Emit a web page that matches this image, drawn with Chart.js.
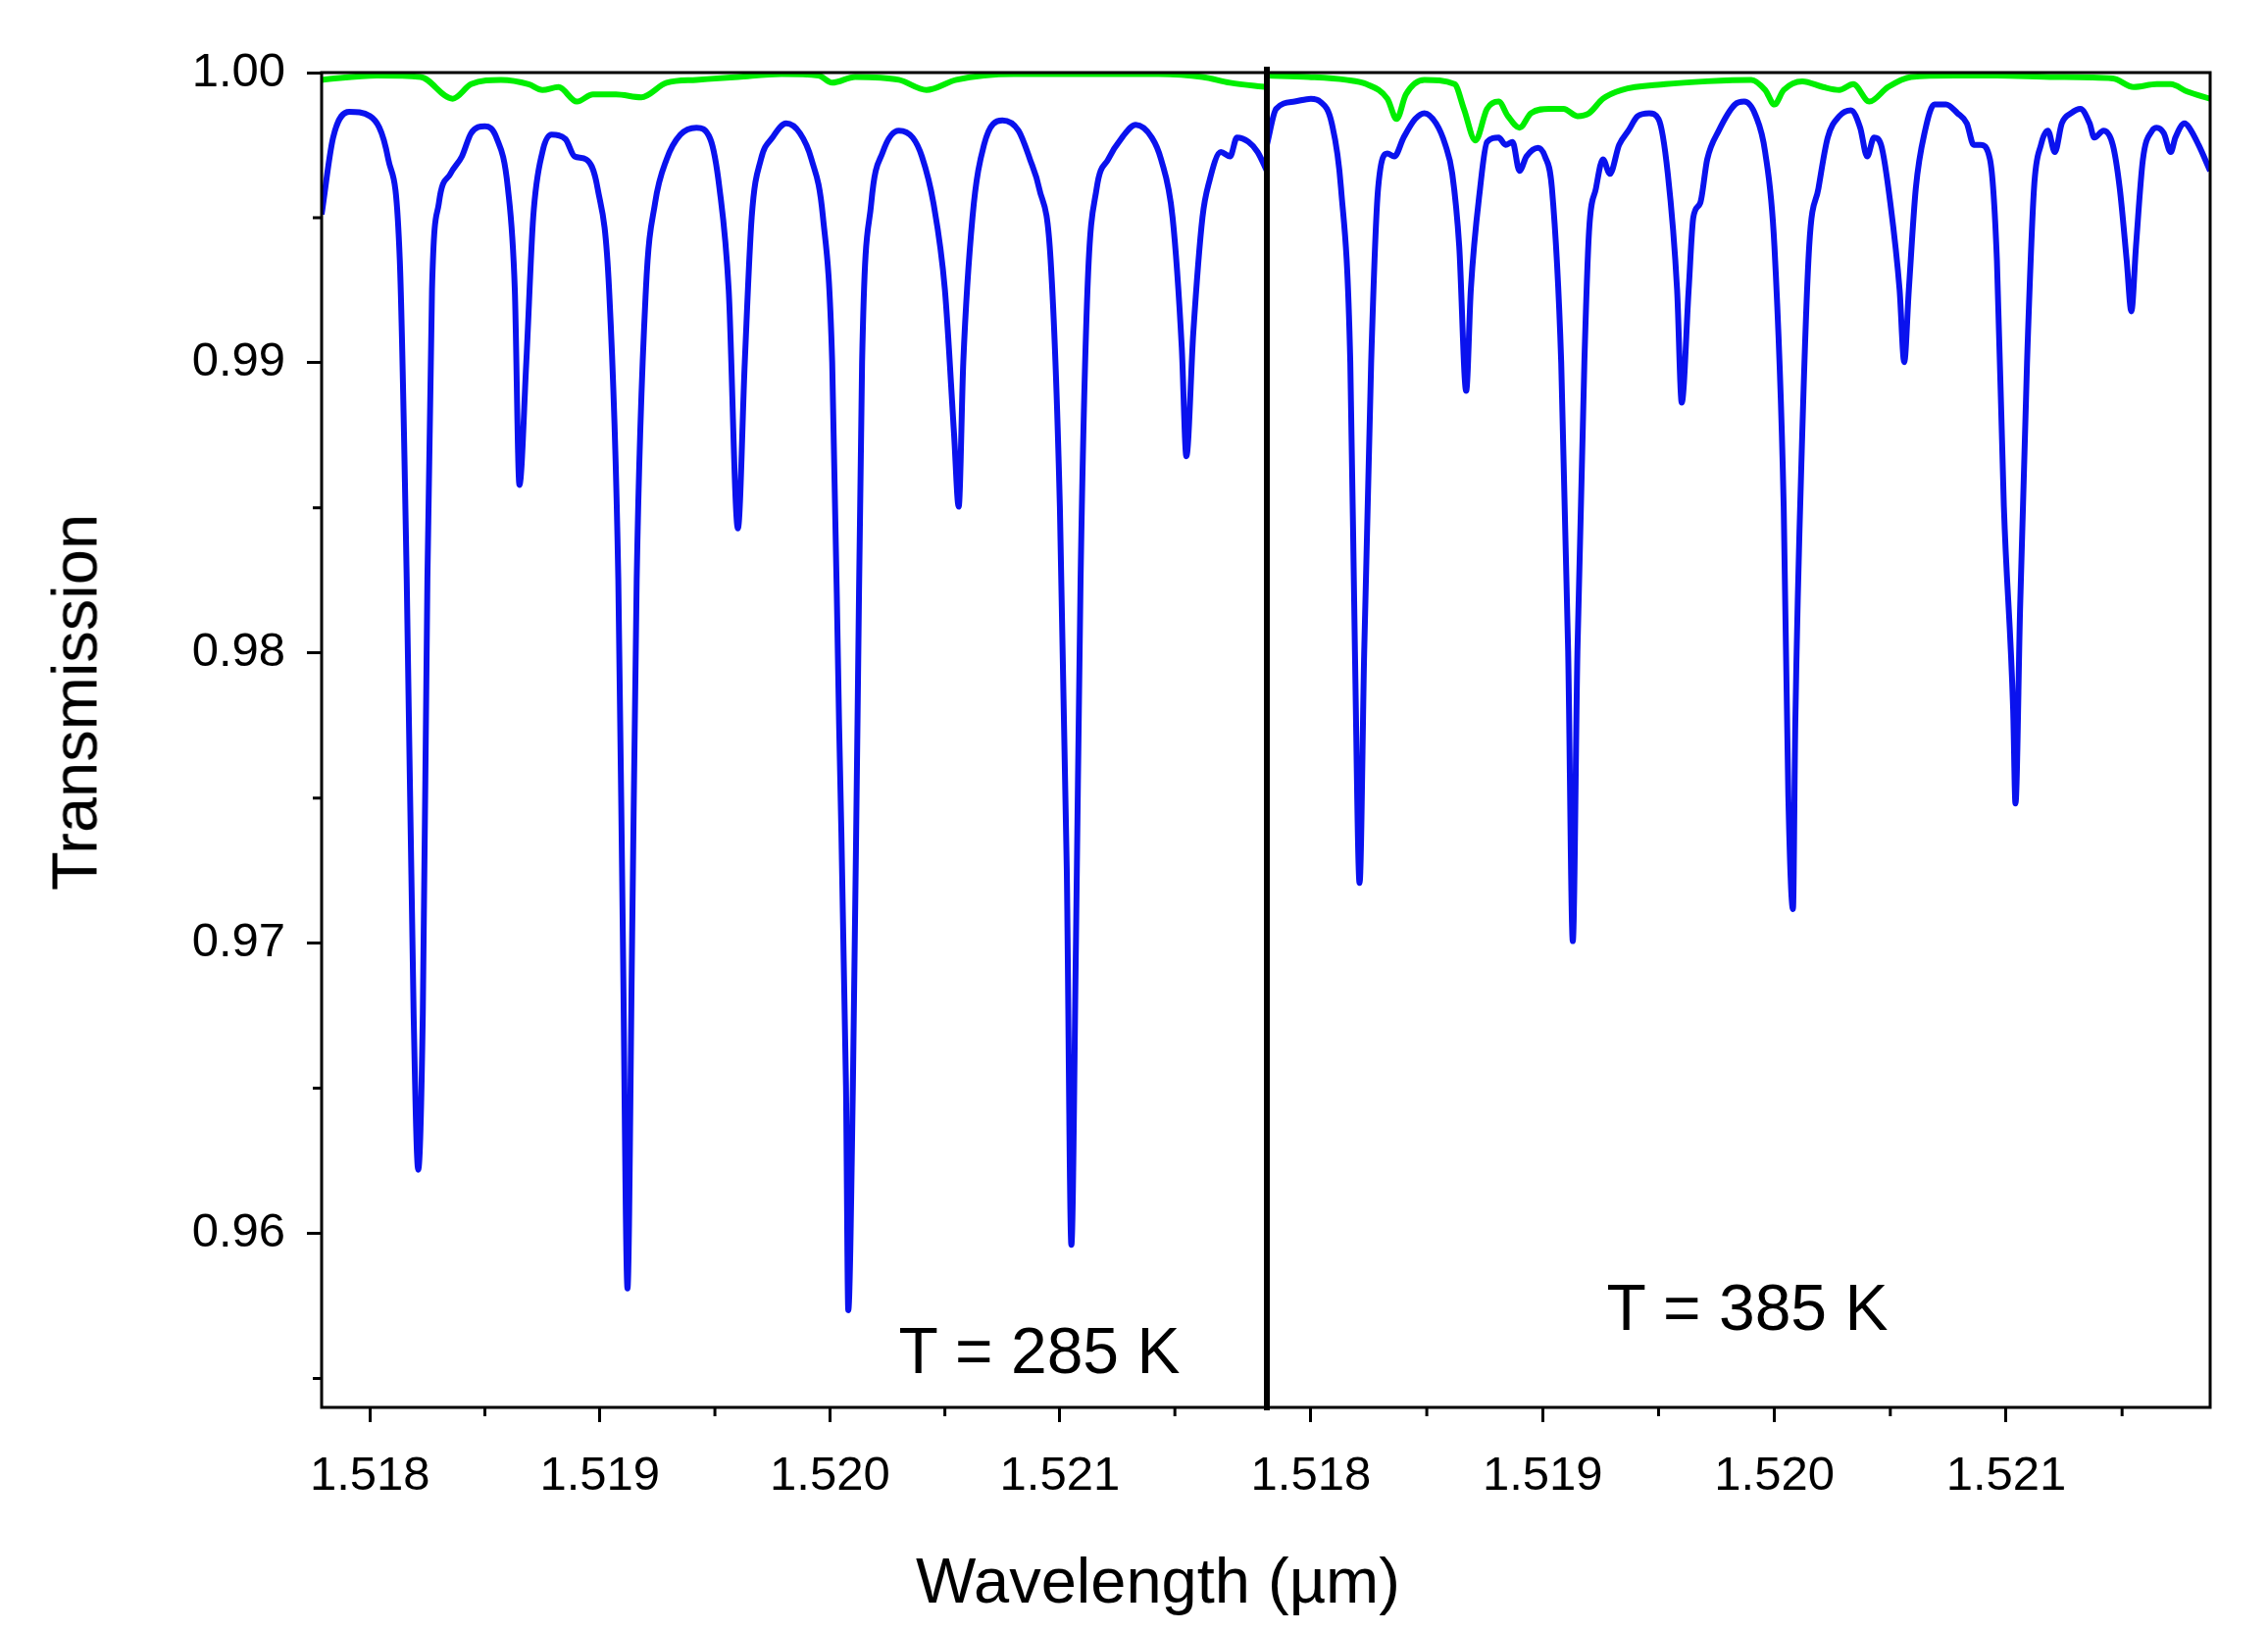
<!DOCTYPE html>
<html><head><meta charset="utf-8">
<script src="https://cdn.jsdelivr.net/npm/chart.js@4/dist/chart.umd.min.js"></script>
<style>
body{margin:0;background:#fff;width:2313px;height:1664px;overflow:hidden;position:relative;font-family:"Liberation Sans",Arial,sans-serif}
.box{position:absolute;top:0;height:1664px}
.t{position:absolute;white-space:nowrap;color:#000}
</style></head><body>
<div class="box" style="left:0;width:1292px"><canvas id="c1"></canvas></div>
<div class="box" style="left:1192px;width:1121px"><canvas id="c2"></canvas></div>
<div class="t" style="left:1181px;top:1611px;transform:translate(-50%,-50%);font-size:65px">Wavelength (µm)</div>
<div class="t" style="left:76px;top:716px;transform:translate(-50%,-50%) rotate(-90deg);font-size:65px">Transmission</div>
<div class="t" style="left:1060px;top:1377px;transform:translate(-50%,-50%);font-size:66px">T = 285 K</div>
<div class="t" style="left:1782px;top:1333px;transform:translate(-50%,-50%);font-size:66px">T = 385 K</div>
<script>
const xTicks=[1.518,1.519,1.520,1.521];
const xMinor=[1.5185,1.5195,1.5205,1.5215];
const yTicks=[0.96,0.97,0.98,0.99,1.00];
const yMinor=[0.955,0.965,0.975,0.985,0.995];

const wlBlue285=[1.51779,1.51784,1.51791,1.51800,1.51808,1.51813,1.51816,1.51819,1.51821,1.51823,1.51825,1.51827,1.51830,1.51835,1.51840,1.51844,1.51850,1.51855,1.51860,1.51863,1.51865,1.51868,1.51871,1.51875,1.51879,1.51885,1.51889,1.51894,1.51899,1.51904,1.51908,1.51910,1.51912,1.51914,1.51916,1.51920,1.51924,1.51929,1.51935,1.51942,1.51948,1.51952,1.51956,1.51960,1.51963,1.51966,1.51970,1.51975,1.51981,1.51987,1.51992,1.51997,1.52001,1.52004,1.52007,1.52008,1.52010,1.52012,1.52014,1.52018,1.52023,1.52030,1.52036,1.52040,1.52045,1.52050,1.52054,1.52056,1.52058,1.52062,1.52067,1.52075,1.52082,1.52087,1.52091,1.52096,1.52100,1.52103,1.52105,1.52107,1.52109,1.52112,1.52116,1.52121,1.52127,1.52133,1.52140,1.52144,1.52149,1.52153,1.52155,1.52158,1.52162,1.52165,1.52170,1.52174,1.52177,1.52182,1.52186,1.52190];
const trBlue285=[0.99511,0.99776,0.99865,0.99850,0.99701,0.99352,0.98254,0.96758,0.96219,0.96758,0.98254,0.99252,0.99551,0.99651,0.99711,0.99791,0.99815,0.99776,0.99601,0.99252,0.98579,0.99002,0.99501,0.99726,0.99786,0.99771,0.99711,0.99701,0.99601,0.99252,0.98254,0.97007,0.95810,0.97007,0.98254,0.99252,0.99551,0.99701,0.99786,0.99810,0.99771,0.99601,0.99252,0.98429,0.99002,0.99501,0.99701,0.99776,0.99825,0.99791,0.99701,0.99501,0.99002,0.97755,0.96508,0.95735,0.96508,0.97755,0.99002,0.99551,0.99726,0.99800,0.99776,0.99711,0.99551,0.99252,0.98753,0.98504,0.99002,0.99501,0.99751,0.99835,0.99800,0.99701,0.99601,0.99352,0.98504,0.97256,0.95960,0.97007,0.98254,0.99252,0.99601,0.99701,0.99776,0.99820,0.99776,0.99701,0.99501,0.99052,0.98678,0.99102,0.99501,0.99626,0.99726,0.99711,0.99776,0.99761,0.99726,0.99661];
const wlGreen285=[1.51779,1.51803,1.51822,1.51836,1.51844,1.51857,1.51869,1.51875,1.51882,1.51890,1.51897,1.51907,1.51918,1.51929,1.51942,1.51960,1.51979,1.51995,1.52001,1.52011,1.52030,1.52042,1.52055,1.52080,1.52111,1.52143,1.52162,1.52174,1.52190];
const trGreen285=[0.99975,0.99990,0.99985,0.99910,0.99960,0.99975,0.99960,0.99940,0.99950,0.99900,0.99925,0.99925,0.99915,0.99965,0.99975,0.99985,0.99995,0.99990,0.99965,0.99985,0.99975,0.99940,0.99975,0.99995,0.99995,0.99995,0.99985,0.99965,0.99950];

const wlBlue385=[1.51781,1.51785,1.51793,1.51800,1.51804,1.51809,1.51813,1.51817,1.51819,1.51821,1.51823,1.51826,1.51829,1.51833,1.51836,1.51840,1.51845,1.51849,1.51854,1.51858,1.51861,1.51864,1.51867,1.51869,1.51873,1.51876,1.51881,1.51884,1.51887,1.51890,1.51893,1.51898,1.51901,1.51904,1.51908,1.51911,1.51913,1.51915,1.51918,1.51920,1.51923,1.51926,1.51929,1.51933,1.51937,1.51941,1.51946,1.51950,1.51954,1.51958,1.51960,1.51963,1.51965,1.51968,1.51971,1.51976,1.51983,1.51987,1.51992,1.51996,1.52000,1.52004,1.52006,1.52008,1.52009,1.52012,1.52015,1.52019,1.52023,1.52028,1.52033,1.52037,1.52040,1.52043,1.52046,1.52050,1.52054,1.52056,1.52058,1.52061,1.52065,1.52069,1.52074,1.52079,1.52083,1.52086,1.52089,1.52093,1.52096,1.52099,1.52103,1.52104,1.52106,1.52109,1.52112,1.52115,1.52118,1.52121,1.52124,1.52128,1.52132,1.52136,1.52138,1.52142,1.52146,1.52149,1.52152,1.52154,1.52156,1.52159,1.52163,1.52165,1.52168,1.52171,1.52173,1.52177,1.52179,1.52183,1.52188];
const trBlue385=[0.99751,0.99875,0.99900,0.99910,0.99900,0.99825,0.99601,0.99002,0.98005,0.97207,0.98005,0.99002,0.99601,0.99721,0.99711,0.99776,0.99840,0.99860,0.99825,0.99751,0.99651,0.99401,0.98903,0.99252,0.99601,0.99761,0.99776,0.99751,0.99761,0.99661,0.99711,0.99741,0.99711,0.99601,0.99002,0.98005,0.97007,0.98005,0.99002,0.99451,0.99601,0.99701,0.99651,0.99751,0.99800,0.99850,0.99860,0.99840,0.99651,0.99252,0.98863,0.99252,0.99501,0.99551,0.99701,0.99800,0.99890,0.99900,0.99850,0.99726,0.99401,0.98504,0.97506,0.97117,0.97755,0.98753,0.99401,0.99601,0.99776,0.99850,0.99870,0.99810,0.99711,0.99776,0.99751,0.99551,0.99252,0.99002,0.99252,0.99601,0.99800,0.99890,0.99890,0.99860,0.99825,0.99751,0.99751,0.99701,0.99352,0.98504,0.97805,0.97481,0.98154,0.99002,0.99601,0.99751,0.99800,0.99726,0.99825,0.99860,0.99875,0.99825,0.99776,0.99800,0.99751,0.99601,0.99352,0.99177,0.99401,0.99701,0.99800,0.99810,0.99791,0.99726,0.99776,0.99825,0.99810,0.99751,0.99661];
const wlGreen385=[1.51781,1.51799,1.51815,1.51824,1.51833,1.51837,1.51841,1.51849,1.51862,1.51866,1.51871,1.51876,1.51881,1.51885,1.51890,1.51895,1.51903,1.51909,1.51915,1.51920,1.51926,1.51934,1.51953,1.51971,1.51990,1.51996,1.52000,1.52004,1.52012,1.52021,1.52028,1.52034,1.52041,1.52049,1.52059,1.52078,1.52096,1.52121,1.52146,1.52155,1.52165,1.52171,1.52178,1.52188];
const trGreen385=[0.99990,0.99985,0.99975,0.99960,0.99910,0.99840,0.99925,0.99975,0.99960,0.99875,0.99766,0.99875,0.99900,0.99850,0.99810,0.99860,0.99875,0.99875,0.99850,0.99860,0.99910,0.99940,0.99960,0.99970,0.99975,0.99940,0.99890,0.99940,0.99970,0.99950,0.99940,0.99960,0.99900,0.99950,0.99985,0.99990,0.99990,0.99985,0.99980,0.99950,0.99960,0.99960,0.99935,0.99910];

const pts=(a,b)=>a.map((x,i)=>({x,y:b[i]}));
const FONT={family:'"Liberation Sans",Arial,sans-serif',size:49};

const framePlugin={id:'frame',afterDraw(c){
  const ctx=c.ctx,a=c.chartArea;ctx.save();ctx.strokeStyle='#000';
  ctx.lineWidth=3;ctx.strokeRect(a.left,a.top,a.right-a.left,a.bottom-a.top);
  const xs=c.scales.x;ctx.beginPath();
  xMinor.forEach(v=>{const p=xs.getPixelForValue(v);ctx.moveTo(p,a.bottom);ctx.lineTo(p,a.bottom+9);});
  if(c.options.plugins.frame.left){const ys=c.scales.y;
    yMinor.forEach(v=>{const p=ys.getPixelForValue(v);ctx.moveTo(a.left,p);ctx.lineTo(a.left-9,p);});}
  ctx.stroke();
  if(!c.options.plugins.frame.left){ctx.lineWidth=6;ctx.beginPath();ctx.moveTo(a.left,a.top-6);ctx.lineTo(a.left,a.bottom+3);ctx.stroke();}
  ctx.restore();}};

function make(id,blue,green,xmin,xmax,left){
  return new Chart(document.getElementById(id),{
    type:'line',
    data:{datasets:[
      {data:green,borderColor:'#00ee00',borderWidth:6,pointRadius:0,cubicInterpolationMode:'monotone'},
      {data:blue,borderColor:'#0a12ee',borderWidth:6,pointRadius:0,cubicInterpolationMode:'monotone'}]},
    options:{responsive:true,maintainAspectRatio:false,animation:false,
      layout:{padding:{top:74,right:left?0:59,left:left?0:100,bottom:0}},
      plugins:{legend:{display:false},tooltip:{enabled:false},frame:{left}},
      scales:{
        x:{type:'linear',min:xmin,max:xmax,
          afterBuildTicks:s=>{s.ticks=xTicks.map(v=>({value:v}));},
          afterFit:s=>{s.height=229;s.paddingLeft=0;s.paddingRight=0;},
          border:{display:false},
          grid:{drawOnChartArea:false,drawTicks:true,tickLength:15,color:'#000',lineWidth:3},
          ticks:{color:'#000',font:FONT,padding:26,maxRotation:0,callback:v=>v.toFixed(3)}},
        y:{display:left,min:0.954,max:1.0,
          afterBuildTicks:s=>{s.ticks=yTicks.map(v=>({value:v}));},
          afterFit:s=>{s.width=left?328:0;s.paddingTop=0;s.paddingBottom=0;},
          border:{display:false},
          grid:{drawOnChartArea:false,drawTicks:true,tickLength:15,color:'#000',lineWidth:3},
          ticks:{color:'#000',font:FONT,padding:22,callback:v=>v.toFixed(2)}}
      }},
    plugins:[framePlugin]});
}
make('c1',pts(wlBlue285,trBlue285),pts(wlGreen285,trGreen285),1.51779,1.52190,true);
make('c2',pts(wlBlue385,trBlue385),pts(wlGreen385,trGreen385),1.51781,1.52188,false);
</script></body></html>
